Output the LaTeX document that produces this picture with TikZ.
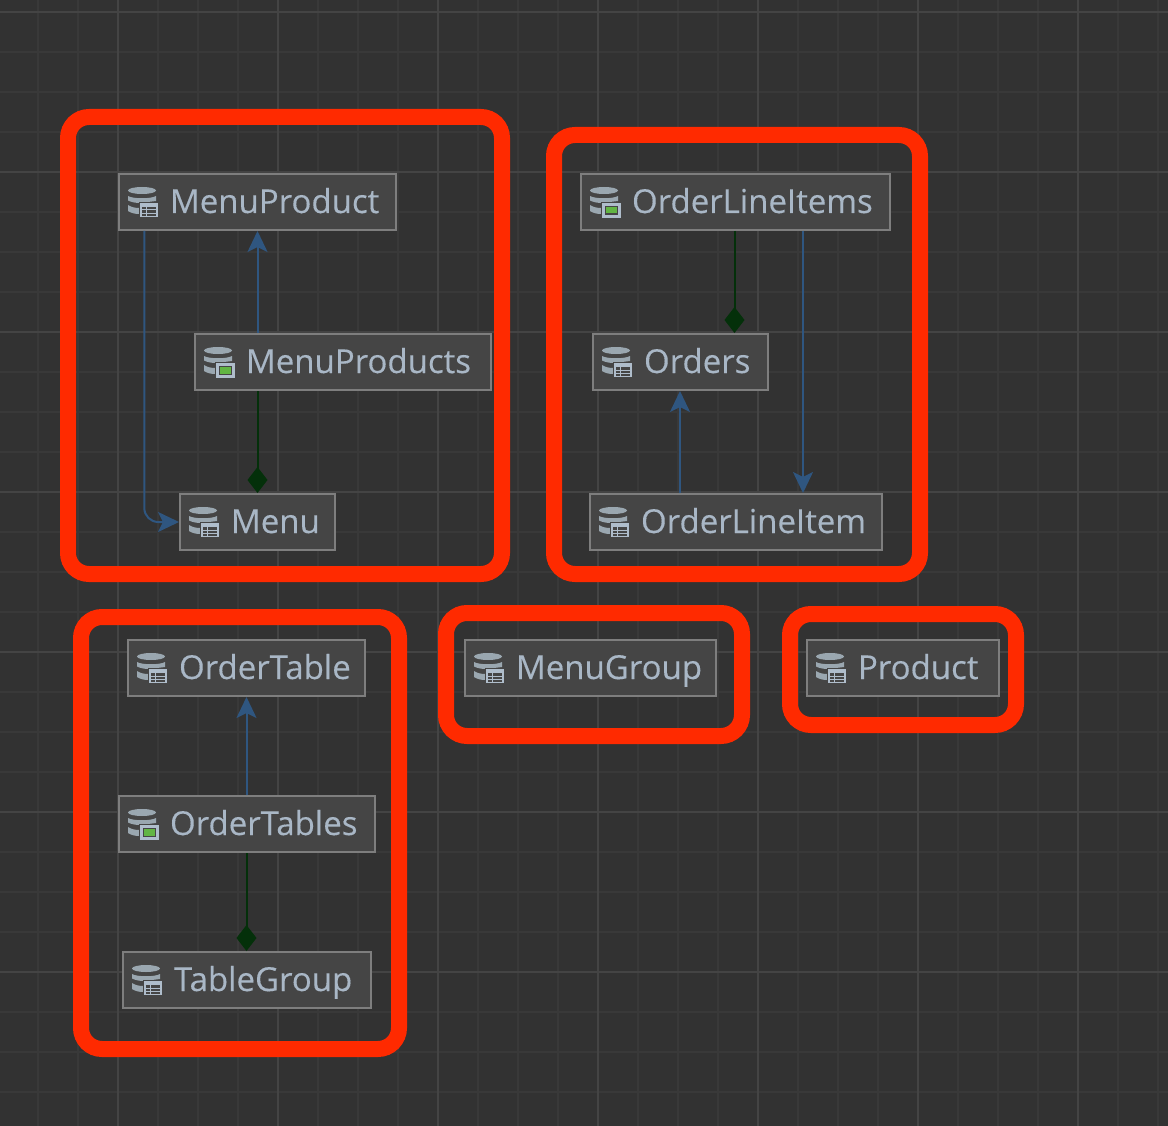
\documentclass[tikz,border=0pt]{standalone}
\usepackage{fontspec}
\setmainfont{Open Sans}
\newfontfamily\lab[FakeBold=0.25]{Open Sans}
\usetikzlibrary{arrows.meta,calc}
\definecolor{bg}{HTML}{323232}
\definecolor{gridminor}{HTML}{393939}
\definecolor{gridmajor}{HTML}{444444}
\definecolor{boxfill}{HTML}{454545}
\definecolor{boxline}{HTML}{7E7E7E}
\definecolor{labeltext}{HTML}{A9B7C6}
\definecolor{iconcol}{HTML}{9AA7B0}
\definecolor{iconlight}{HTML}{AFBDCB}
\definecolor{assoccol}{HTML}{2F5680}
\definecolor{compcol}{HTML}{04300A}
\definecolor{marker}{HTML}{FF2A00}
\definecolor{enumgreen}{HTML}{62B543}
\tikzset{
  x=1pt,y=-1pt,
  entity/.style={draw=boxline,line width=2pt,fill=boxfill,text=labeltext,inner sep=0pt,
    align=left,anchor=north west,font=\lab\fontsize{33}{33}\selectfont},
  assoc/.style={draw=assoccol,line width=2pt,-{Stealth[length=21pt,width=20pt,inset=5pt]},rounded corners=14pt},
  comp/.style={draw=compcol,line width=2pt,-{Diamond[length=26pt,width=20pt]}},
  markerbox/.style={draw=marker,line width=16pt,rounded corners=21pt},
}
% \entity{name}{x1}{y1}{x2}{label}{kind}
\newcommand{\entity}[6]{%
  \pgfmathsetlengthmacro{\entw}{#4-#2}%
  \node[entity,text width=\entw,minimum height=56pt] (#1) at (#2-1,#3-1)
    {\hspace*{51pt}\rule[-10pt]{0pt}{42pt}#5};
  \begin{scope}[shift={(#2,#3)}]
    \fill[iconcol] (9,16.5) arc[start angle=180,end angle=0,x radius=14,y radius=3.5]
       arc[start angle=0,end angle=-180,x radius=14,y radius=3.5];
    \fill[iconcol] (9,22) .. controls (14,25) and (32,25) .. (37,22) -- (37,27) -- (21,29) .. controls (16,29) and (12,28) .. (9,26.5) -- cycle;
    \fill[iconcol] (9,31) .. controls (12,33) and (16,34) .. (20,34) -- (20,40) .. controls (16,40) and (12,39) .. (9,37) -- cycle;
    \ifnum#6=0
      \fill[boxfill] (20,28) rectangle (40,44);
      \draw[iconlight,line width=1.6pt] (22,30) rectangle (38,42.5);
      \fill[iconlight] (22,30) rectangle (38,33);
      \draw[iconlight,line width=1pt] (22,36) -- (38,36) (22,39.5) -- (38,39.5) (27.5,33) -- (27.5,42);
    \else
      \fill[boxfill] (20,28) rectangle (41,45);
      \draw[iconlight,line width=2.4pt] (22.5,30.5) rectangle (38.5,42.5);
      \fill[enumgreen] (25,33) rectangle (36,39.5);
    \fi
  \end{scope}%
}
\begin{document}
\begin{tikzpicture}
\useasboundingbox (0,0) rectangle (1168,1126);
\fill[bg] (0,0) rectangle (1168,1126);
% grid
\foreach \gx in {38,78,...,1158} \draw[gridminor,line width=1.6pt] (\gx,0) -- (\gx,1126);
\foreach \gy in {12,52,...,1122} \draw[gridminor,line width=1.6pt] (0,\gy) -- (1168,\gy);
\foreach \gx in {118,278,...,1078} \draw[gridmajor,line width=2pt] (\gx,0) -- (\gx,1126);
\foreach \gy in {12,172,...,972} \draw[gridmajor,line width=2pt] (0,\gy) -- (1168,\gy);
% entities
\entity{mp}{119}{174}{396}{MenuProduct}{0}
\entity{mps}{195}{334}{491}{MenuProducts}{1}
\entity{menu}{180}{494}{335}{Menu}{0}
\entity{olis}{581}{174}{890}{OrderLineItems}{1}
\entity{orders}{593}{334}{768}{Orders}{0}
\entity{oli}{590}{494}{882}{OrderLineItem}{0}
\entity{ot}{128}{640}{365}{OrderTable}{0}
\entity{ots}{119}{796}{375}{OrderTables}{1}
\entity{tg}{123}{952}{371}{TableGroup}{0}
\entity{mg}{465}{640}{716}{MenuGroup}{0}
\entity{prod}{807}{640}{999}{Product}{0}
% connectors
\draw[assoc] ([xshift=63.5pt]mps.north west) -- ([xshift=139.5pt]mp.south west);
\draw[assoc] ([xshift=26.3pt]mp.south west) |- (menu.west);
\draw[comp] ([xshift=63.5pt]mps.south west) -- ([xshift=78.5pt]menu.north west);
\draw[comp] ([xshift=154.5pt]olis.south west) -- ([xshift=142.5pt]orders.north west);
\draw[assoc] ([xshift=223pt]olis.south west) -- ([xshift=214pt]oli.north west);
\draw[assoc] ([xshift=91pt]oli.north west) -- ([xshift=88pt]orders.south west);
\draw[assoc] ([xshift=128.5pt]ots.north west) -- ([xshift=119.5pt]ot.south west);
\draw[comp] ([xshift=128.5pt]ots.south west) -- ([xshift=124.5pt]tg.north west);
% red marker boxes
\draw[markerbox] (68,117) rectangle (502,574);
\draw[markerbox] (554,135) rectangle (920,574);
\draw[markerbox] (81,617) rectangle (399,1049);
\draw[markerbox] (446,613) rectangle (742,736);
\draw[markerbox] (790,614) rectangle (1016,725);
\end{tikzpicture}
\end{document}
